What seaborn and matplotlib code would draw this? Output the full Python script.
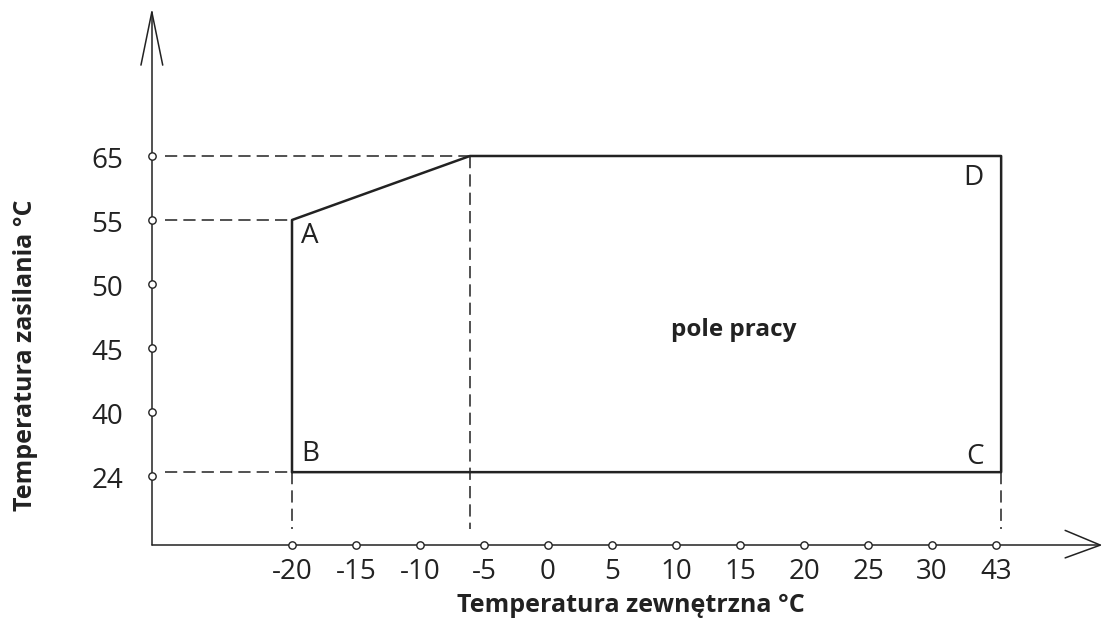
import matplotlib
matplotlib.use("Agg")
import matplotlib.pyplot as plt
import seaborn as sns

# tick labels (placed at equal spacing, like in the original drawing)
x_labels = ['-20', '-15', '-10', '-5', '0', '5', '10', '15', '20', '25', '30', '43']
y_labels = ['24', '40', '45', '50', '55', '65']

# working envelope, in tick-index units
env_x = [0, 0, 2.78, 11.08, 11.08, 0]
env_y = [0.06, 4, 5, 5, 0.06, 0.06]

# corner labels
corner_names = ['A', 'B', 'C', 'D']
corner_x = [0.27, 0.29, 10.67, 10.64]
corner_y = [3.75, 0.35, 0.3, 4.66]

# axis origin / ends
x0, y0 = -2.19, -1.08
x_end, y_end = 12.63, 7.25

sns.set_style("white")
plt.rcParams['font.family'] = ['Open Sans', 'DejaVu Sans']

fig = plt.figure(figsize=(11.02, 6.21), dpi=100)
ax = fig.add_axes([0, 0, 1, 1])
ax.set_xlim(-4.5625, 12.656)
ax.set_ylim(-2.266, 7.4375)
ax.axis('off')

ink = '#222222'

# axes with open arrow heads
ax.plot([x0, x_end], [y0, y0], color=ink, lw=1.1)
ax.plot([x0, x0], [y0, y_end], color=ink, lw=1.1)
ax.plot([12.08, x_end, 12.08], [y0 + 0.23, y0, y0 - 0.2], color=ink, lw=1.1)
ax.plot([x0 - 0.17, x0, x0 + 0.17], [6.42, y_end, 6.42], color=ink, lw=1.1)

# dashed guides
dash = dict(color=ink, lw=1.1, linestyle=(0, (8, 4)))
ax.plot([x0 + 0.2, 2.78], [5, 5], **dash)
ax.plot([x0 + 0.2, 0], [4, 4], **dash)
ax.plot([x0 + 0.2, 0], [0.06, 0.06], **dash)
ax.plot([0, 0], [0.06, y0 + 0.25], **dash)
ax.plot([2.78, 2.78], [5, y0 + 0.25], **dash)
ax.plot([11.08, 11.08], [0.06, y0 + 0.25], **dash)

# envelope
sns.lineplot(x=env_x, y=env_y, sort=False, estimator=None, color=ink, lw=1.8, ax=ax)

# tick circles
xi = list(range(len(x_labels)))
yi = list(range(len(y_labels)))
sns.scatterplot(x=xi, y=[y0] * len(xi), marker='o', s=28, facecolor='white',
                edgecolor=ink, linewidth=1, ax=ax, zorder=5)
sns.scatterplot(x=[x0] * len(yi), y=yi, marker='o', s=28, facecolor='white',
                edgecolor=ink, linewidth=1, ax=ax, zorder=5)

for i, lab in zip(xi, x_labels):
    ax.text(i, y0 - 0.42, lab, ha='center', va='center', fontsize=20, color=ink)
for j, lab in zip(yi, y_labels):
    ax.text(x0 - 0.45, j - 0.08, lab, ha='right', va='center', fontsize=20, color=ink)

for name, cx, cy in zip(corner_names, corner_x, corner_y):
    ax.text(cx, cy, name, ha='center', va='center', fontsize=20, color=ink)

ax.text(6.9, 2.28, 'pole pracy', ha='center', va='center', fontsize=17.5,
        fontweight='bold', color=ink)

ax.text(5.3, -2.03, 'Temperatura zewnętrzna °C', ha='center', va='center',
        fontsize=18, fontweight='bold', color=ink)
ax.text(-4.17, 1.88, 'Temperatura zasilania °C', ha='center', va='center',
        rotation=90, fontsize=18, fontweight='bold', color=ink)

fig.savefig('out.png', dpi=100)
